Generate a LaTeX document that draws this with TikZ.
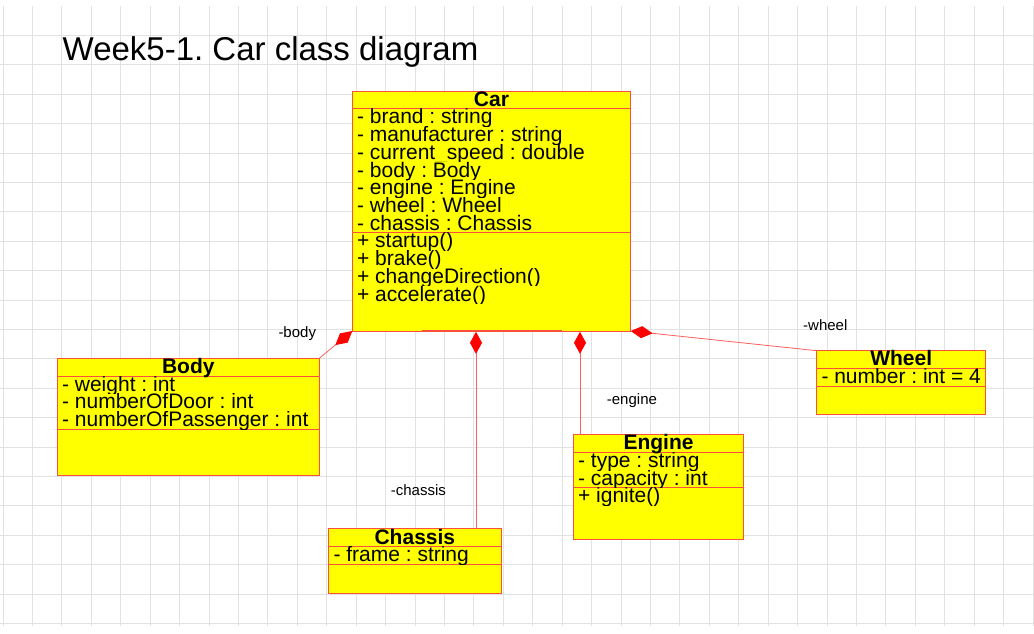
\documentclass[tikz,border=0pt]{standalone}
\usepackage{fontspec}
\setmainfont{Liberation Sans}
\usetikzlibrary{arrows.meta}
\definecolor{boxred}{RGB}{250,80,60}
\definecolor{linkred}{RGB}{255,95,95}
\definecolor{gridgray}{RGB}{226,226,226}
\definecolor{umlyellow}{RGB}{255,255,0}
\newcommand\umlrow[5]{%
  \begin{scope}
    \clip (#2,#3) rectangle (#4,#3+17.7);
    \node[rowtext] (#1) at (#2+4.6,#3+15.2) {#5};
  \end{scope}}
\frenchspacing
\begin{document}
\frenchspacing
\begin{tikzpicture}[x=1pt,y=-1pt,
  gridline/.style={draw=gridgray, line width=1pt},
  classbox/.style={draw=boxred, fill=umlyellow, line width=1pt, inner sep=0pt, outer sep=0pt, anchor=north west},
  sepline/.style={draw=boxred, line width=1pt},
  rowtext/.style={inner sep=0pt, anchor=base west, font=\fontsize{21}{21}\selectfont\frenchspacing},
  headtext/.style={inner sep=0pt, anchor=base, font=\fontsize{21}{21}\selectfont\bfseries},
  rolelabel/.style={inner sep=0pt, anchor=base west, font=\fontsize{15}{15}\selectfont},
  titletext/.style={inner sep=0pt, anchor=base west, font=\fontsize{33}{33}\selectfont\frenchspacing},
  comp/.style={draw=linkred, line width=0.8pt, -{Diamond[length=22pt,width=12pt,fill=red,color=red]}},
]
\useasboundingbox (0,0) rectangle (1034,633);
\fill[white] (0,0) rectangle (1034,633);
% grid
\foreach \i in {0,...,35} \draw[gridline] (3+29.43*\i,6) -- (3+29.43*\i,626);
\foreach \j in {1,...,21} \draw[gridline] (0,6+29.4*\j) -- (1034,6+29.4*\j);

% title
\node[titletext] (title) at (62.5,60) {Week5-1. Car class diagram};

% Car
\node[classbox, minimum width=278.4pt, minimum height=240pt] (car) at (352.3,91) {};
\draw[sepline] (352.3,108.7) -- (630.7,108.7);
\draw[sepline] (352.3,232.7) -- (630.7,232.7);
\draw[boxred, line width=1.8pt] (421.7,331.3) -- (562,331.3);
\node[headtext] (carName) at (491.5,106.2) {Car};
\umlrow{carA}{352.3}{108.7}{630.7}{- brand : string}
\umlrow{carB}{352.3}{126.4}{630.7}{- manufacturer : string}
\umlrow{carC}{352.3}{144.1}{630.7}{- current\_speed : double}
\umlrow{carD}{352.3}{161.8}{630.7}{- body : Body}
\umlrow{carE}{352.3}{179.5}{630.7}{- engine : Engine}
\umlrow{carF}{352.3}{197.2}{630.7}{- wheel : Wheel}
\umlrow{carG}{352.3}{214.9}{630.7}{- chassis : Chassis}
\umlrow{carM}{352.3}{232.7}{630.7}{+ startup()}
\umlrow{carN}{352.3}{250.4}{630.7}{+ brake()}
\umlrow{carO}{352.3}{268.1}{630.7}{+ changeDirection()}
\umlrow{carP}{352.3}{285.8}{630.7}{+ accelerate()}

% Body
\node[classbox, minimum width=262pt, minimum height=116.7pt] (body) at (57.3,358.3) {};
\draw[sepline] (57.3,376) -- (319.3,376);
\draw[sepline] (57.3,429) -- (319.3,429);
\node[headtext] (bodyName) at (188.3,373.5) {Body};
\umlrow{bodyA}{57.3}{376}{319.3}{- weight : int}
\umlrow{bodyB}{57.3}{393.7}{319.3}{- numberOfDoor : int}
\umlrow{bodyC}{57.3}{411.4}{319.3}{- numberOfPassenger : int}

% Wheel
\node[classbox, minimum width=169pt, minimum height=63.6pt] (wheel) at (816.7,350.7) {};
\draw[sepline] (816.7,368.3) -- (985.7,368.3);
\draw[sepline] (816.7,386) -- (985.7,386);
\node[headtext] (wheelName) at (901.2,365.8) {Wheel};
\umlrow{wheelA}{816.7}{368.3}{985.7}{- number : int = 4}

% Engine
\node[classbox, minimum width=170.4pt, minimum height=104.6pt] (engine) at (573.3,434.7) {};
\draw[sepline] (573.3,452.3) -- (743.7,452.3);
\draw[sepline] (573.3,487.7) -- (743.7,487.7);
\node[headtext] (engineName) at (658.5,449.8) {Engine};
\umlrow{engineA}{573.3}{452.3}{743.7}{- type : string}
\umlrow{engineB}{573.3}{470}{743.7}{- capacity : int}
\umlrow{engineM}{573.3}{487.7}{743.7}{+ ignite()}

% Chassis
\node[classbox, minimum width=172.3pt, minimum height=65pt] (chassis) at (328.7,528.3) {};
\draw[sepline] (328.7,546.7) -- (501,546.7);
\draw[sepline] (328.7,564) -- (501,564);
\node[headtext] (chassisName) at (414.85,544.2) {Chassis};
\umlrow{chassisA}{328.7}{546.7}{501}{- frame : string}

% connectors (composition)
\coordinate (carEngine) at (580,331.8);
\coordinate (engineTop) at (580,434.7);
\coordinate (carChassis) at (476,331.8);
\coordinate (chassisTop) at (476,528.3);
\draw[comp] (body.north east) -- (car.south west);
\draw[comp] (wheel.north west) -- (car.south east);
\draw[comp] (engineTop) -- (carEngine);
\draw[comp] (chassisTop) -- (carChassis);

% role labels
\node[rolelabel] (lblBody) at (278.3,337) {-body};
\node[rolelabel] (lblWheel) at (803,330.7) {-wheel};
\node[rolelabel] (lblEngine) at (606.7,404) {-engine};
\node[rolelabel] (lblChassis) at (390.7,495) {-chassis};
\end{tikzpicture}
\end{document}
